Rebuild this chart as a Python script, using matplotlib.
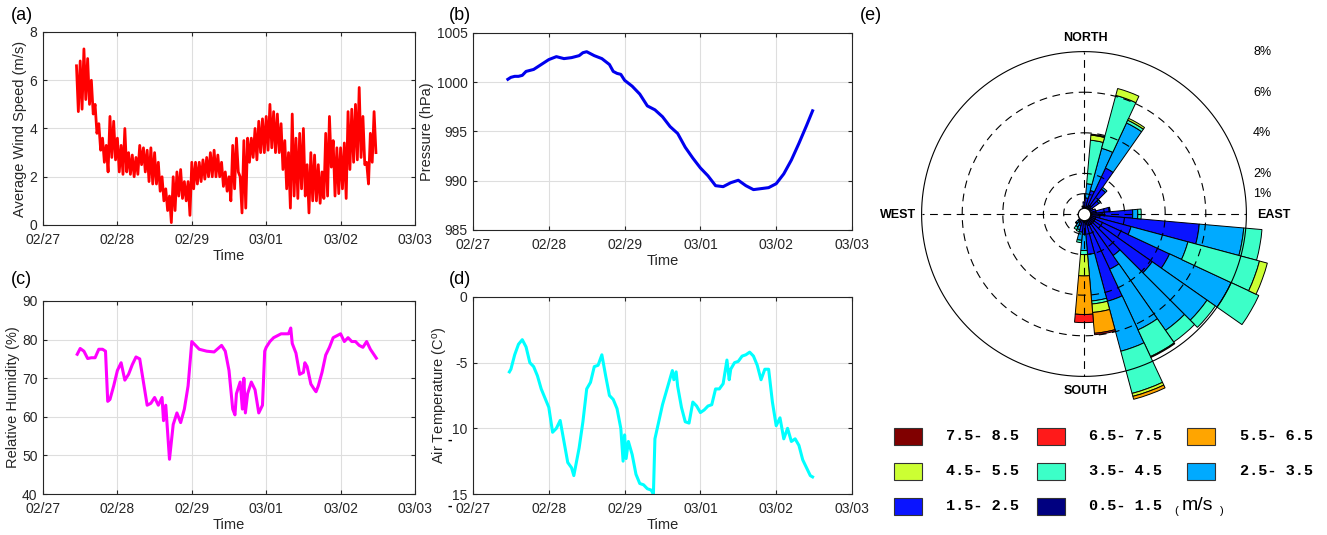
import numpy as np
import matplotlib
matplotlib.use('Agg')
import matplotlib.pyplot as plt
from matplotlib.patches import Rectangle

plt.rcParams['font.family'] = 'Liberation Sans'
plt.rcParams['mathtext.fontset'] = 'custom'
plt.rcParams['mathtext.rm'] = 'Liberation Sans'
plt.rcParams['mathtext.it'] = 'Liberation Sans:italic'

W, H = 1327, 535
day_labels = ['02/27', '02/28', '02/29', '03/01', '03/02', '03/03']

# (a) wind speed band, upper / lower envelope every 0.05 day from 0.45
wind_hi = [6.6, 6.8, 7.3, 6.9, 6.0, 5.0, 4.2, 3.6, 3.3, 4.5,
           4.3, 3.6, 3.3, 4.0, 3.0, 2.9, 2.8, 3.3, 3.2, 3.1,
           3.2, 3.0, 2.6, 2.0, 1.5, 1.2, 2.0, 2.2, 2.3, 1.8,
           1.8, 2.6, 2.6, 2.6, 2.7, 2.8, 3.0, 3.1, 2.9, 2.6,
           2.2, 2.0, 3.3, 3.6, 2.0, 3.5, 3.6, 3.6, 4.0, 4.3,
           4.4, 4.5, 5.0, 4.7, 4.6, 4.2, 3.5, 3.0, 4.6, 3.6,
           3.8, 4.0, 2.5, 3.0, 2.9, 2.5, 2.2, 3.8, 4.5, 3.5,
           3.2, 3.2, 3.4, 4.7, 4.8, 5.0, 5.7, 4.5, 2.6, 3.8, 4.7]
wind_lo = [4.7, 4.8, 5.2, 5.0, 4.6, 3.8, 3.1, 2.6, 2.2, 2.8,
           2.7, 2.2, 2.1, 2.2, 2.1, 2.0, 2.1, 2.5, 2.2, 1.8,
           1.7, 1.7, 1.4, 1.0, 0.6, 0.1, 0.6, 1.2, 1.1, 1.0,
           0.4, 1.5, 1.7, 1.8, 1.9, 2.0, 2.0, 2.0, 2.0, 1.6,
           1.4, 1.0, 1.5, 2.2, 0.5, 0.7, 2.6, 2.8, 2.7, 3.0,
           3.0, 3.1, 3.2, 3.0, 3.0, 2.3, 1.5, 0.7, 1.2, 1.1,
           1.5, 1.2, 0.5, 1.0, 1.0, 0.9, 1.1, 1.2, 2.4, 1.2,
           1.3, 1.5, 1.1, 2.3, 2.6, 2.7, 2.8, 2.5, 1.7, 2.6, 3.0]

# (b) pressure
pres_day = [0.46, 0.5, 0.55, 0.6, 0.65, 0.7, 0.8, 0.9, 1.0, 1.1,
            1.2, 1.3, 1.4, 1.45, 1.5, 1.55, 1.6, 1.7, 1.8, 1.85,
            1.9, 1.95, 2.0, 2.1, 2.2, 2.3, 2.4, 2.5, 2.6, 2.7,
            2.8, 2.9, 3.0, 3.1, 3.2, 3.3, 3.4, 3.5, 3.6, 3.7,
            3.8, 3.9, 4.0, 4.1, 4.2, 4.3, 4.4, 4.48]
pres_val = [1000.3, 1000.5, 1000.6, 1000.6, 1000.7, 1001.1, 1001.3, 1001.8, 1002.3, 1002.6,
            1002.4, 1002.5, 1002.7, 1003.0, 1003.1, 1002.9, 1002.7, 1002.4, 1001.8, 1001.1,
            1000.9, 1000.8, 1000.2, 999.6, 998.8, 997.6, 997.2, 996.5, 995.5, 994.8,
            993.4, 992.3, 991.3, 990.5, 989.5, 989.4, 989.8, 990.05, 989.5, 989.1,
            989.2, 989.3, 989.7, 990.7, 992.1, 993.8, 995.6, 997.1]

# (c) relative humidity
hum_day = [0.46, 0.5, 0.55, 0.6, 0.65, 0.7, 0.75, 0.8, 0.84, 0.87,
           0.9, 0.95, 1.0, 1.05, 1.1, 1.15, 1.2, 1.25, 1.3, 1.35,
           1.4, 1.45, 1.5, 1.55, 1.6, 1.62, 1.65, 1.7, 1.75, 1.8,
           1.85, 1.9, 1.95, 2.0, 2.05, 2.1, 2.2, 2.3, 2.4, 2.45,
           2.5, 2.55, 2.58, 2.6, 2.65, 2.68, 2.7, 2.72, 2.75, 2.8,
           2.85, 2.9, 2.95, 2.98, 3.0, 3.05, 3.1, 3.2, 3.3, 3.33,
           3.35, 3.4, 3.45, 3.5, 3.52, 3.55, 3.6, 3.65, 3.67, 3.7,
           3.75, 3.8, 3.85, 3.9, 3.95, 4.0, 4.05, 4.1, 4.15, 4.2,
           4.25, 4.3, 4.35, 4.4, 4.48]
hum_val = [76.2, 77.7, 77.0, 75.1, 75.3, 75.3, 77.5, 77.5, 77.0, 64.0,
           64.5, 68.0, 72.0, 74.0, 69.5, 71.0, 73.5, 75.5, 75.0, 69.0,
           63.0, 63.5, 65.0, 63.0, 65.0, 59.0, 63.0, 49.0, 58.0, 61.0,
           58.5, 62.0, 68.0, 79.5, 78.5, 77.5, 77.0, 76.8, 78.5, 77.0,
           72.0, 62.0, 60.5, 66.0, 69.0, 62.0, 70.0, 61.0, 66.0, 69.0,
           67.0, 61.0, 63.0, 77.0, 78.0, 79.5, 80.5, 81.5, 81.5, 83.0,
           79.0, 76.5, 71.0, 71.5, 74.0, 73.0, 68.5, 67.0, 66.5, 68.0,
           71.5, 76.0, 78.0, 80.5, 81.0, 81.5, 79.5, 80.5, 79.5, 79.5,
           78.5, 78.0, 79.5, 77.5, 75.2]

# (d) air temperature
temp_day = [0.48, 0.5, 0.55, 0.6, 0.65, 0.7, 0.75, 0.8, 0.85, 0.9,
            0.95, 1.0, 1.05, 1.1, 1.15, 1.2, 1.25, 1.3, 1.33, 1.4,
            1.45, 1.5, 1.55, 1.6, 1.65, 1.7, 1.75, 1.8, 1.85, 1.9,
            1.95, 1.98, 2.0, 2.02, 2.05, 2.1, 2.15, 2.2, 2.25, 2.3,
            2.35, 2.38, 2.4, 2.45, 2.5, 2.55, 2.6, 2.63, 2.65, 2.68,
            2.7, 2.75, 2.8, 2.85, 2.9, 2.95, 3.0, 3.05, 3.1, 3.15,
            3.2, 3.25, 3.3, 3.35, 3.38, 3.4, 3.45, 3.5, 3.55, 3.6,
            3.65, 3.7, 3.75, 3.8, 3.85, 3.9, 3.95, 4.0, 4.05, 4.1,
            4.15, 4.2, 4.25, 4.3, 4.35, 4.4, 4.45, 4.48]
temp_val = [-5.7, -5.5, -4.4, -3.6, -3.25, -3.8, -5.0, -5.3, -6.0, -7.0,
            -7.7, -8.4, -10.3, -10.0, -9.4, -11.0, -12.6, -13.0, -13.6, -11.5,
            -9.5, -7.0, -6.5, -5.3, -5.2, -4.4, -6.0, -7.5, -7.8, -8.5,
            -10.0, -12.5, -10.5, -12.3, -11.0, -12.0, -13.5, -14.2, -14.3, -14.6,
            -14.7, -15.0, -10.8, -9.5, -8.2, -7.2, -6.2, -5.6, -6.3, -5.7,
            -6.8, -8.4, -9.5, -9.6, -8.0, -8.3, -8.8, -8.6, -8.3, -8.2,
            -7.0, -7.0, -6.6, -4.8, -6.3, -5.5, -5.0, -4.9, -4.5, -4.4,
            -4.2, -4.5, -5.2, -6.3, -5.5, -5.5, -8.0, -9.8, -9.2, -10.8,
            -10.0, -11.0, -10.8, -11.3, -12.4, -13.0, -13.6, -13.7]

# (e) wind rose, frequency (%) per 10 degree sector (0, 10, ... 350)
rose_dir = list(range(0, 360, 10))
f_05_15 = [0.3, 0.3, 0.4, 0.5, 0.5, 0.4, 0.3, 0.3, 0.6, 0.9,
           0.8, 0.6, 0.6, 0.6, 0.6, 0.6, 0.6, 0.5, 0.4, 0.3,
           0.3, 0.2, 0.2, 0.2, 0.1, 0.1, 0.1, 0.1, 0.1, 0.1,
           0.1, 0.1, 0.1, 0.1, 0.1, 0.2]
f_15_25 = [0.3, 0.5, 0.8, 2.0, 1.0, 0.5, 0.2, 0.3, 0.65, 1.5,
           4.9, 1.8, 4.05, 3.5, 1.9, 2.4, 3.85, 1.5, 0.6, 0.6,
           0.3, 0.25, 0.2, 0.1, 0, 0, 0, 0, 0, 0,
           0, 0, 0, 0, 0, 0.2]
f_25_35 = [0, 0.7, 2.15, 2.45, 0.1, 0.1, 0, 0, 0.05, 0.25,
           2.2, 2.9, 3.35, 3.3, 4.5, 3.3, 2.55, 2.3, 0.8, 0.4,
           0.2, 0.25, 0.15, 0, 0, 0, 0, 0, 0, 0,
           0, 0, 0, 0, 0, 0]
f_35_45 = [0, 2.15, 2.7, 0.15, 0, 0, 0, 0, 0, 0.17,
           0.9, 3.65, 1.5, 0.5, 0.7, 1.45, 2.15, 0.15, 0.2, 0.12,
           0.1, 0.15, 0.05, 0, 0, 0, 0, 0, 0, 0,
           0, 0, 0, 0, 0, 0]
f_45_55 = [0, 0.25, 0.35, 0.1, 0, 0, 0, 0, 0, 0,
           0, 0.4, 0, 0, 0, 0.05, 0.15, 0.42, 1.05, 0,
           0, 0, 0, 0, 0, 0, 0, 0, 0, 0,
           0, 0, 0, 0, 0, 0]
f_55_65 = [0, 0.05, 0, 0, 0, 0, 0, 0, 0, 0,
           0, 0, 0, 0, 0, 0, 0.15, 1.03, 1.9, 0,
           0, 0, 0, 0, 0, 0, 0, 0, 0, 0,
           0, 0, 0, 0, 0, 0]
f_65_75 = [0, 0, 0, 0, 0, 0, 0, 0, 0, 0,
           0, 0, 0, 0, 0, 0, 0, 0.07, 0.4, 0,
           0, 0, 0, 0, 0, 0, 0, 0, 0, 0,
           0, 0, 0, 0, 0, 0]
f_75_85 = [0] * 36

rose_bins = [f_05_15, f_15_25, f_25_35, f_35_45, f_45_55, f_55_65, f_65_75, f_75_85]
bin_labels = ['0.5- 1.5', '1.5- 2.5', '2.5- 3.5', '3.5- 4.5',
              '4.5- 5.5', '5.5- 6.5', '6.5- 7.5', '7.5- 8.5']
bin_colors = ['#000080', '#0a14ff', '#00aaff', '#3cffc8',
              '#ccff33', '#ffa500', '#ff1a1a', '#800000']


def fx(px):
    return px / W


def fy(py):
    return 1 - py / H


def style_ax(ax, ylim, yticks, ylabel, yticklabels=None):
    ax.set_xlim(0, 5)
    ax.set_xticks(range(6))
    ax.set_xticklabels(day_labels)
    ax.set_ylim(ylim)
    ax.set_yticks(yticks)
    if yticklabels is not None:
        ax.set_yticklabels(yticklabels)
    ax.grid(True, color='#dedede', lw=0.8)
    ax.set_axisbelow(True)
    ax.tick_params(direction='in', length=3, top=True, right=True,
                   colors='#262626', labelsize=10, pad=4)
    ax.tick_params(axis='x', pad=6)
    for s in ax.spines.values():
        s.set_color('#262626')
        s.set_linewidth(0.8)
    ax.set_xlabel('Time', fontsize=10.5, labelpad=1.5, color='#262626')
    ax.set_ylabel(ylabel, fontsize=10.5, labelpad=1.5, color='#262626')


fig = plt.figure(figsize=(W / 100, H / 100), dpi=100)

# (a)
ax_a = fig.add_axes([fx(43), fy(225), fx(372), 193 / H])
wd = np.linspace(0.45, 4.45, len(wind_hi))
zz_t = np.column_stack([wd, wd + 0.025]).ravel()
zz_v = np.column_stack([wind_hi, wind_lo]).ravel()
ax_a.plot(zz_t, zz_v, color='red', lw=2.0)
style_ax(ax_a, (0, 8), [0, 2, 4, 6, 8], 'Average Wind Speed (m/s)')

# (b)
ax_b = fig.add_axes([fx(473), fy(230), fx(379), 197 / H])
ax_b.plot(pres_day, pres_val, color='#0000ee', lw=2.2)
style_ax(ax_b, (985, 1005), [985, 990, 995, 1000, 1005], 'Pressure (hPa)')

# (c)
ax_c = fig.add_axes([fx(43), fy(494), fx(372), 193 / H])
ax_c.plot(hum_day, hum_val, color='#ff00ff', lw=2.2)
style_ax(ax_c, (40, 90), [40, 50, 60, 70, 80, 90], 'Relative Humidity (%)')

# (d)
ax_d = fig.add_axes([fx(473), fy(494), fx(379), 197 / H])
ax_d.plot(temp_day, temp_val, color='#00ffff', lw=2.2)
style_ax(ax_d, (-15, 0), [-15, -10, -5, 0], r'Air Temperature (C$^\mathrm{o}$)',
         ['15', '10', '-5', '0'])
fig.text(fx(450), fy(440), '-', fontsize=10, fontweight='bold', ha='center', va='center')
fig.text(fx(450), fy(506), '-', fontsize=10, fontweight='bold', ha='center', va='center')

# panel letters
for lab, x, y in [('(a)', 11, 15), ('(b)', 449, 15), ('(c)', 11, 280),
                  ('(d)', 449, 279), ('(e)', 860, 15)]:
    fig.text(fx(x), fy(y), lab, fontsize=13, va='center', ha='left')

# (e) wind rose
R = 20.3  # px per percent
ax_e = fig.add_axes([fx(1084 - 10 * R), fy(214 + 10 * R), fx(20 * R), 20 * R / H],
                    projection='polar')
ax_e.set_theta_zero_location('N')
ax_e.set_theta_direction(-1)
ax_e.set_ylim(0, 10)
ax_e.axis('off')

theta = np.radians(rose_dir)
cum = np.zeros(len(rose_dir))
for vals, col in zip(rose_bins, bin_colors):
    vals = np.array(vals, dtype=float)
    m = vals > 0
    if m.any():
        ax_e.bar(theta[m], vals[m], width=np.radians(10), bottom=cum[m],
                 color=col, edgecolor='black', linewidth=0.7, zorder=2)
    cum = cum + vals

ring = np.linspace(0, 2 * np.pi, 361)
for r in [1, 2, 4, 6]:
    ax_e.plot(ring, np.full_like(ring, r), color='black', lw=0.8,
              ls=(0, (7, 5)), zorder=3)
ax_e.plot(ring, np.full_like(ring, 8), color='black', lw=0.8, zorder=3)
for a in [0, 90, 180, 270]:
    ax_e.plot([np.radians(a)] * 2, [0, 8], color='black', lw=0.8,
              ls=(0, (7, 5)), zorder=3)
ax_e.plot([0], [0], 'o', ms=9, mfc='white', mec='black', mew=0.9, zorder=5)

fig.text(fx(1085), fy(38), 'NORTH', fontsize=9, fontweight='bold', ha='center', va='center')
fig.text(fx(1086), fy(391), 'SOUTH', fontsize=9, fontweight='bold', ha='center', va='center')
fig.text(fx(880), fy(215), 'WEST', fontsize=9, fontweight='bold', ha='left', va='center')
fig.text(fx(1257), fy(215), 'EAST', fontsize=9, fontweight='bold', ha='left', va='center')
for txt, y in [('8%', 52), ('6%', 93), ('4%', 133), ('2%', 174), ('1%', 194)]:
    fig.text(fx(1253), fy(y), txt, fontsize=9, ha='left', va='center')

# legend
leg_order = [7, 6, 5, 4, 3, 2, 1, 0]
box_x = [894, 1037, 1187]
txt_x = [946, 1089, 1240]
row_y = [436, 471, 506]
for i, k in enumerate(leg_order):
    r, c = divmod(i, 3)
    fig.add_artist(Rectangle((fx(box_x[c]), fy(row_y[r] + 8.5)), fx(28), 17 / H,
                             transform=fig.transFigure, facecolor=bin_colors[k],
                             edgecolor='#333333', lw=0.8))
    fig.text(fx(txt_x[c]), fy(row_y[r]), bin_labels[k], fontsize=11,
             family='Liberation Mono', fontweight='bold', va='center', ha='left')
fig.text(fx(1174), fy(511), '(', fontsize=8, va='center', ha='left')
fig.text(fx(1182), fy(506), 'm/s', fontsize=14, va='center', ha='left')
fig.text(fx(1220), fy(511), ')', fontsize=8, va='center', ha='left')

fig.savefig('out.png', dpi=100)
